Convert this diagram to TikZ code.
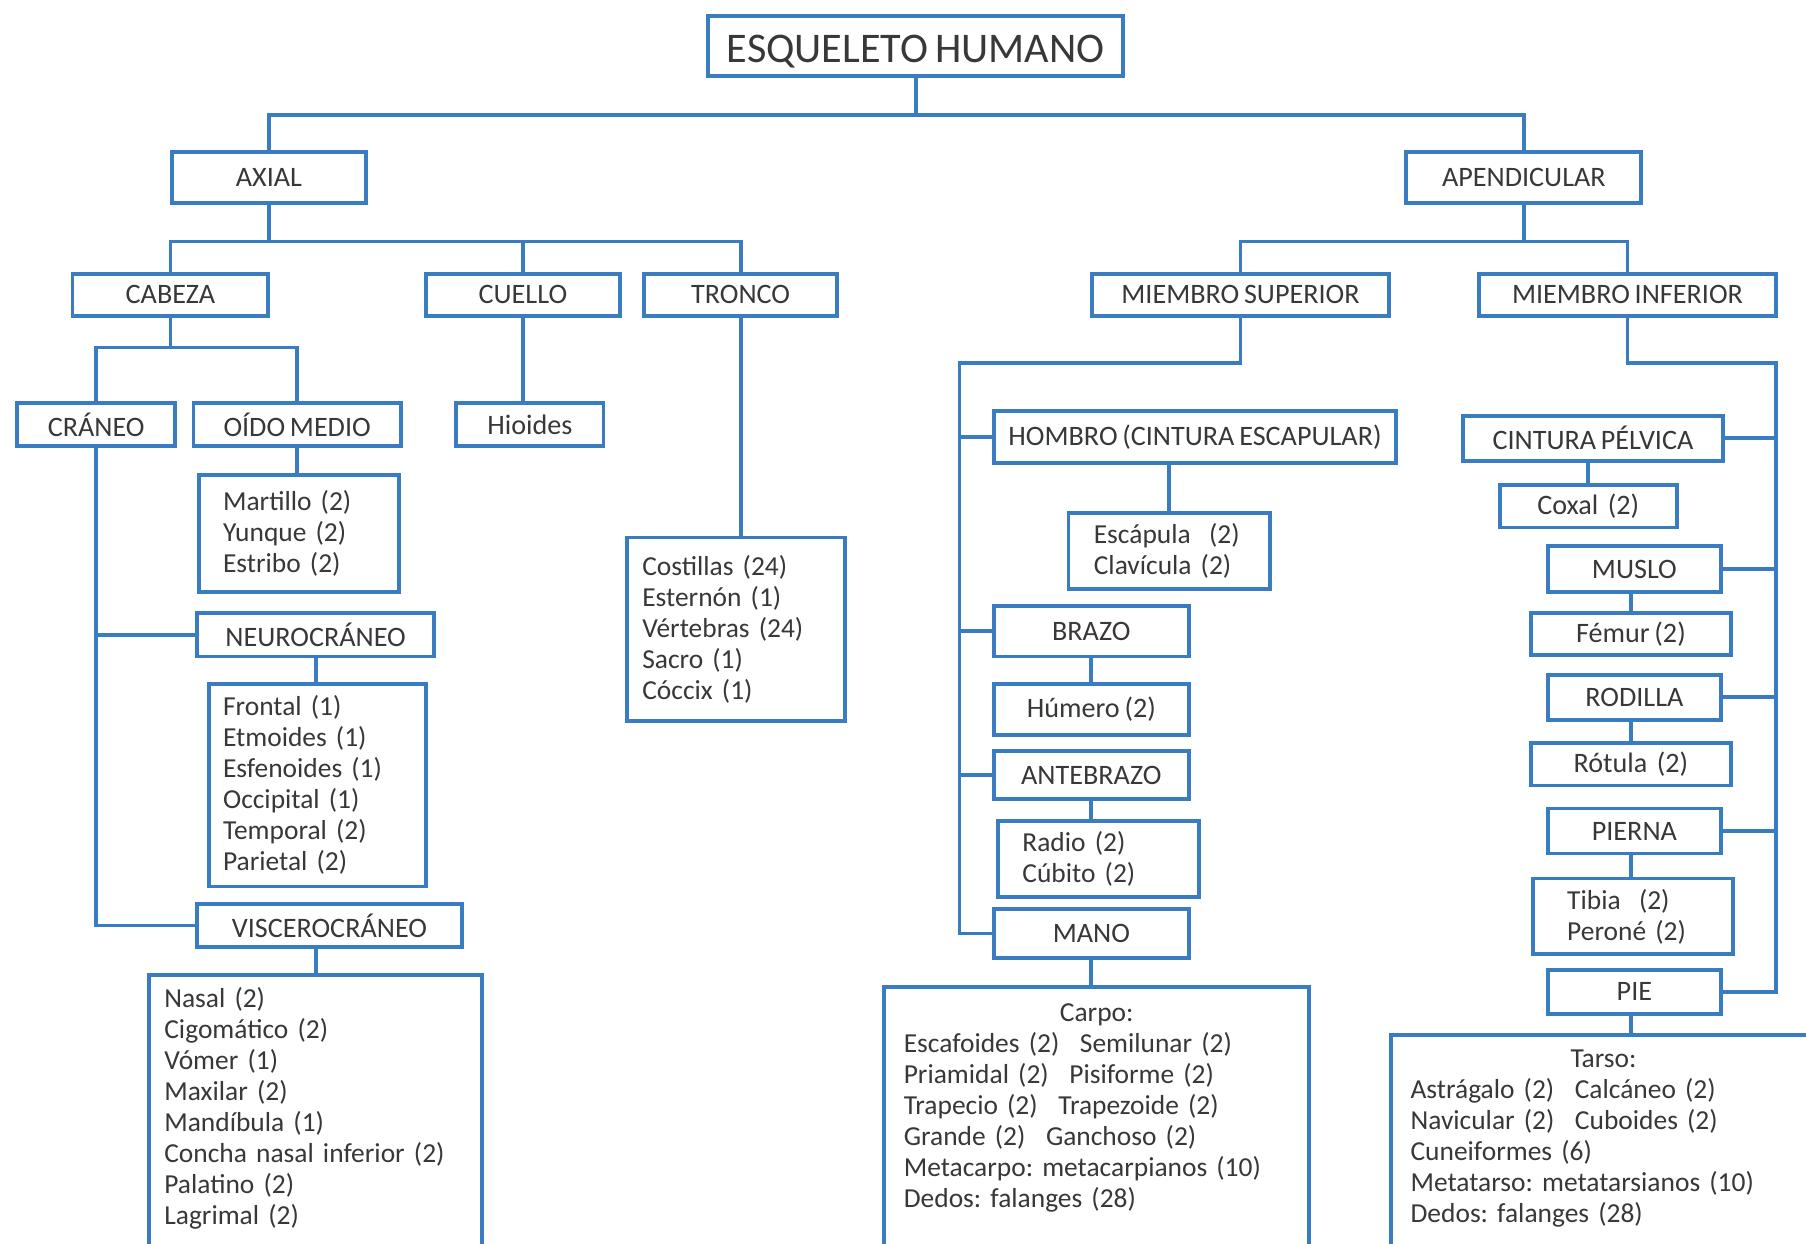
\documentclass[tikz,border=0pt]{standalone}
\usepackage{fontspec}
\setmainfont{Carlito}[WordSpace=0.75]
\usepackage{tikz}
\frenchspacing
\definecolor{esqblue}{HTML}{3A7CC1}
\definecolor{esqtext}{HTML}{383838}
\newcommand{\esqu}{0.0115cm}
\tikzset{
  ebox/.style 2 args={draw=esqblue,line width=1.1pt,fill=white,text=esqtext,inner sep=0pt,minimum width=#1*\esqu,minimum height=#2*\esqu},
  elist/.style 2 args={draw=esqblue,line width=1.1pt,fill=white,text=esqtext,anchor=north west,align=left,font=\fontsize{7.8}{8.8}\selectfont,inner ysep=3pt,inner xsep=#2*\esqu,text width=(#1-2*#2)*\esqu},
  elink/.style={draw=esqblue,line width=1.1pt}
}

\begin{document}
\begin{tikzpicture}[x=\esqu,y=-\esqu,font=\fontsize{8}{8.8}\selectfont]
  \useasboundingbox (0,0) rectangle (1568,1080);
  \clip (0,0) rectangle (1568,1080);
  % upper levels
  \node[ebox={360}{52},font=\fontsize{12}{14}\selectfont,text height=9.5pt,text depth=0pt] (esq) at (795,40) {ESQUELETO HUMANO};
  \node[ebox={169}{44}] (axial) at (233.5,154) {AXIAL};
  \node[ebox={204}{44}] (apend) at (1323,154) {APENDICULAR};
  \node[ebox={170}{36}] (cabeza) at (148,256) {CABEZA};
  \node[ebox={168}{36}] (cuello) at (454,256) {CUELLO};
  \node[ebox={168}{36}] (tronco) at (643,256) {TRONCO};
  \node[ebox={258}{36}] (msup) at (1077,256) {MIEMBRO SUPERIOR};
  \node[ebox={258}{36}] (minf) at (1413,256) {MIEMBRO INFERIOR};
  % axial
  \node[ebox={137}{37}] (craneo) at (83.5,368.5) {CRÁNEO};
  \node[ebox={180}{37}] (oido) at (258,368.5) {OÍDO MEDIO};
  \node[ebox={128}{37}] (hioides) at (460,368.5) {Hioides};
  \node[elist={174}{21},minimum height=101*\esqu] (martillo) at (171,411) {Martillo (2)\\Yunque (2)\\Estribo (2)};
  \node[elist={189}{13},minimum height=159*\esqu] (costillas) at (543,465) {Costillas (24)\\Esternón (1)\\Vértebras (24)\\Sacro (1)\\Cóccix (1)};
  \node[ebox={206}{38}] (neuro) at (274,551) {NEUROCRÁNEO};
  \node[elist={188}{12},minimum height=176*\esqu] (frontal) at (180,592) {Frontal (1)\\Etmoides (1)\\Esfenoides (1)\\Occipital (1)\\Temporal (2)\\Parietal (2)};
  \node[ebox={230}{37}] (viscero) at (286,803.5) {VISCEROCRÁNEO};
  \node[elist={289}{13},inner ysep=11*\esqu] (nasal) at (128,845) {Nasal (2)\\Cigomático (2)\\Vómer (1)\\Maxilar (2)\\Mandíbula (1)\\Concha nasal inferior (2)\\Palatino (2)\\Lagrimal (2)\rule[-60pt]{0pt}{60pt}};
  % miembro superior
  \node[ebox={349}{45}] (hombro) at (1037.5,379.5) {HOMBRO (CINTURA ESCAPULAR)};
  \node[elist={175}{22},minimum height=60*\esqu] (escap) at (926,444) {Escápula\ \ (2)\\Clavícula (2)};
  \node[ebox={169}{44}] (brazo) at (947.5,548) {BRAZO};
  \node[ebox={169}{44}] (humero) at (947.5,616) {Húmero (2)};
  \node[ebox={169}{42}] (antebrazo) at (947.5,673) {ANTEBRAZO};
  \node[elist={174}{21},minimum height=61*\esqu] (radio) at (865,711) {Radio (2)\\Cúbito (2)};
  \node[ebox={169}{43}] (mano) at (947.5,810.5) {MANO};
  \node[elist={369}{17},inner ysep=15*\esqu] (carpo) at (766,855) {\makebox[\linewidth]{Carpo:}\\Escafoides (2)\hspace{.75em}Semilunar (2)\\Priamidal (2)\hspace{.75em}Pisiforme (2)\\Trapecio (2)\hspace{.75em}Trapezoide (2)\\Grande (2)\hspace{.75em}Ganchoso (2)\\Metacarpo: metacarpianos (10)\\Dedos: falanges (28)\rule[-60pt]{0pt}{60pt}};
  % miembro inferior
  \node[ebox={226}{39}] (cpelv) at (1383,380.5) {CINTURA PÉLVICA};
  \node[ebox={154}{37}] (coxal) at (1379,439.5) {Coxal\ \ (2)};
  \node[ebox={150}{40}] (muslo) at (1419,494) {MUSLO};
  \node[ebox={174}{37}] (femur) at (1416,550.5) {Fémur (2)};
  \node[ebox={150}{39}] (rodilla) at (1419,605.5) {RODILLA};
  \node[ebox={174}{37}] (rotula) at (1416,663.5) {Rótula\ \ (2)};
  \node[ebox={150}{39}] (pierna) at (1419,721.5) {PIERNA};
  \node[elist={174}{30},minimum height=62*\esqu] (tibia) at (1329,761) {Tibia\ \ (2)\\Peroné (2)};
  \node[ebox={150}{38}] (pie) at (1419,861) {PIE};
  \node[elist={369}{17},inner ysep=13*\esqu] (tarso) at (1206,897) {\makebox[\linewidth]{Tarso:}\\Astrágalo (2)\hspace{.75em}Calcáneo (2)\\Navicular (2)\hspace{.75em}Cuboides (2)\\Cuneiformes (6)\\Metatarso: metatarsianos (10)\\Dedos: falanges (28)\rule[-60pt]{0pt}{60pt}};
  % connectors
  \foreach \n in {axial,apend}{\draw[elink] (esq.south) -- ++(0,32) -| (\n.north);}
  \foreach \n in {cabeza,cuello,tronco}{\draw[elink] (axial.south) -- ++(0,32) -| (\n.north);}
  \foreach \n in {msup,minf}{\draw[elink] (apend.south) -- ++(0,32) -| (\n.north);}
  \foreach \n in {craneo,oido}{\draw[elink] (cabeza.south) -- ++(0,26) -| (\n.north);}
  \draw[elink] (cuello.south) -- (cuello.south|-hioides.north);
  \draw[elink] (tronco.south) -- (tronco.south|-costillas.north);
  \draw[elink] (oido.south) -- (oido.south|-martillo.north);
  \foreach \n in {neuro,viscero}{\draw[elink] (craneo.south) |- (\n.west);}
  \draw[elink] (neuro.south) -- (neuro.south|-frontal.north);
  \draw[elink] (neuro.south|-viscero.south) -- (neuro.south|-nasal.north);
  \coordinate (supbus) at (833,315);
  \coordinate (infbus) at (1542,315);
  \draw[elink] (msup.south) |- (supbus) -- (supbus|-mano.west) -- (mano.west);
  \foreach \n in {hombro,brazo,antebrazo}{\draw[elink] (supbus|-\n.west) -- (\n.west);}
  \draw[elink] (hombro.south-|escap.north) -- (escap.north);
  \draw[elink] (brazo.south) -- (humero.north);
  \draw[elink] (antebrazo.south) -- (antebrazo.south|-radio.north);
  \draw[elink] (mano.south) -- (mano.south|-carpo.north);
  \draw[elink] (minf.south) |- (infbus) -- (infbus|-pie.east) -- (pie.east);
  \foreach \n in {cpelv,muslo,rodilla,pierna}{\draw[elink] (infbus|-\n.east) -- (\n.east);}
  \draw[elink] (cpelv.south-|coxal.north) -- (coxal.north);
  \foreach \a/\b in {muslo/femur,rodilla/rotula,pierna/tibia,pie/tarso}{\draw[elink] (\a.south-|femur.north) -- (\b.north-|femur.north);}
\end{tikzpicture}
\end{document}
